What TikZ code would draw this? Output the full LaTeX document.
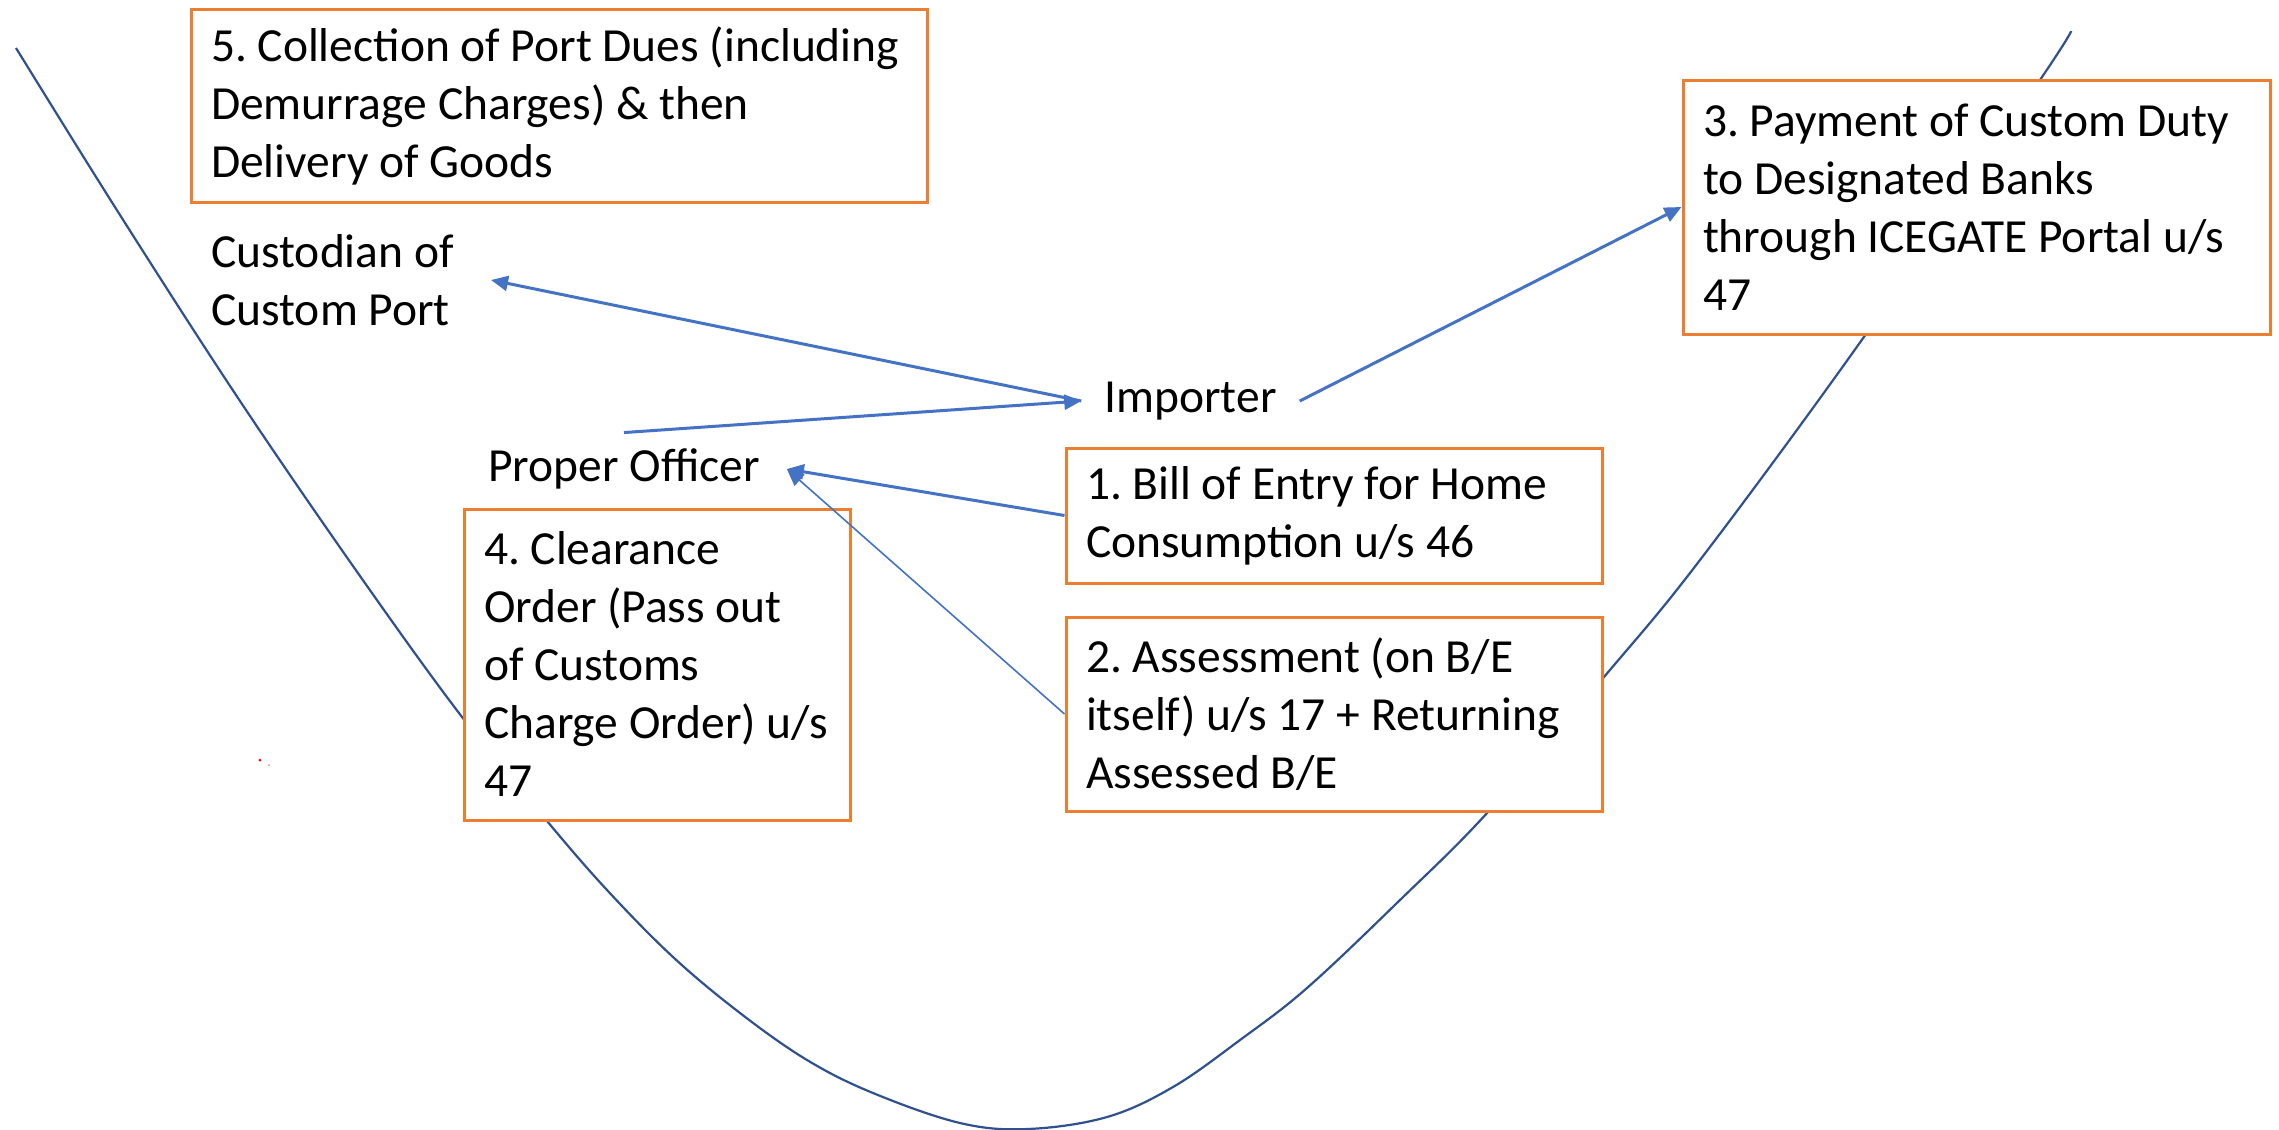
\documentclass[tikz,border=0pt]{standalone}
\usepackage{fontspec}
\setmainfont{Carlito}
\usetikzlibrary{arrows.meta}
\definecolor{curveblue}{HTML}{2F528F}
\definecolor{arrowblue}{HTML}{4472C4}
\definecolor{boxorange}{HTML}{ED7D31}
\begin{document}
\begin{tikzpicture}[x=1pt,y=-1pt,
  txt/.style={font=\fontsize{47.5}{58}\selectfont, align=left, inner ysep=0pt,
    execute at begin node={\frenchspacing\spaceskip=10.7pt\relax\xspaceskip=10.7pt\relax}},
  stepbox/.style={txt, draw=boxorange, line width=3pt, fill=white, inner xsep=20pt},
  conn/.style={draw=arrowblue, line width=3pt, -{Triangle[length=17pt,width=15pt]}},
  thinconn/.style={conn, line width=1.6pt},
]
\useasboundingbox (0,0) rectangle (2279,1130);
\fill[white] (0,0) rectangle (2279,1130);
\draw[curveblue, line width=2.2pt] plot[smooth, tension=0.6] coordinates {(16,48) (120,215) (240,401) (360,576) (462,717) (547,821) (607,890) (673,957) (740,1013) (807,1060) (873,1093) (960,1123) (1028,1129) (1107,1117) (1173,1087) (1240,1040) (1307,988) (1400,900) (1488,812) (1604,677) (1700,560) (1866,334) (2040,80) (2071,31)};

\node[stepbox, text width=696pt, minimum height=193pt] (b5) at (559,105.5) {\mbox{5. Collection of Port Dues (including}\\\mbox{Demurrage Charges) \& then}\\\mbox{Delivery of Goods}};
\node[stepbox, text width=547pt, minimum height=254pt] (b3) at (1976.5,207) {\mbox{3. Payment of Custom Duty}\\\mbox{to Designated Banks}\\\mbox{through ICEGATE Portal u/s}\\47};
\node[stepbox, text width=496pt, minimum height=135pt] (b1) at (1334,515.5) {\mbox{1. Bill of Entry for Home}\\\mbox{Consumption u/s 46}};
\node[stepbox, text width=496pt, minimum height=194pt] (b2) at (1334,714) {\mbox{2. Assessment (on B/E}\\\mbox{itself) u/s 17 + Returning}\\\mbox{Assessed B/E}};
\node[stepbox, text width=346pt, minimum height=311pt] (b4) at (657,664.5) {\mbox{4. Clearance}\\\mbox{Order (Pass out}\\\mbox{of Customs}\\\mbox{Charge Order) u/s}\\47};

\node[txt, inner xsep=37pt, anchor=west] (cust) at (174,280) {Custodian of\\Custom Port};
\node[txt, inner xsep=23pt] (imp) at (1190.5,401) {Importer};
\node[txt, inner xsep=27pt, inner ysep=16pt] (po) at (624,469) {Proper Officer};

\draw[conn] (po.north) -- (imp.west);
\draw[conn] (imp.west) -- (cust.east);
\draw[conn] (imp.east) -- (b3.west);
\draw[conn] (b1.west) -- (po.east);
\draw[thinconn] (b2.west) -- (po.east);

\fill[red] (260,760) circle (1.5pt);
\fill[red!50] (269,765) circle (1pt);
\end{tikzpicture}
\end{document}
